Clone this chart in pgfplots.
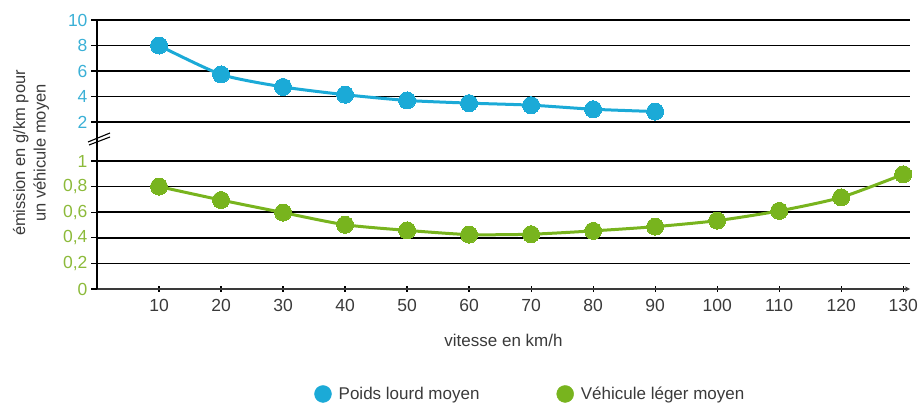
\documentclass[border=0pt]{standalone}
\usepackage{fontspec}
\setmainfont{Liberation Sans}
\usepackage{pgfplots}
\pgfplotsset{compat=1.18}
\definecolor{Cyan}{HTML}{1BAAD7}
\definecolor{Green}{HTML}{78B41E}
\definecolor{CyanTxt}{HTML}{3AB0D6}
\definecolor{GreenTxt}{HTML}{8CBA3A}
\definecolor{Txt}{HTML}{3A3A3A}

\pgfplotsset{
  panel/.style={
    scale only axis, width=813pt, xmin=0, xmax=131.1,
    clip=false,
    axis y line=left,
    axis line style={-},
    y axis line style={black, line width=1.6pt},
    ymajorgrids=true,
    grid style={black, line width=1.6pt},
    tick align=outside,
    major tick length=6pt,
    ytick style={black, line width=1.2pt},
    ticklabel style={font=\fontsize{17.5}{20}\selectfont},
    /pgf/number format/assume math mode=true,
  },
}

\begin{document}
\begin{tikzpicture}[x=1pt,y=1pt]
\useasboundingbox (0,0) rectangle (918,406);

% upper panel: poids lourd
\begin{axis}[panel,
  at={(97pt,284pt)}, anchor=south west, height=102pt,
  axis x line=none,
  ymin=2, ymax=10, ytick={2,4,6,8,10},
  yticklabel style={text=CyanTxt},
]
\addplot[Cyan, line width=3pt, smooth, tension=0.4, mark=*, mark size=8.5pt,
  mark options={fill=Cyan, draw=Cyan, line width=0pt}] coordinates {
  (10,8.0) (20,5.73) (30,4.75) (40,4.14) (50,3.69)
  (60,3.48) (70,3.32) (80,3.0) (90,2.82)
};
\end{axis}

% lower panel: vehicule leger
\begin{axis}[panel,
  at={(97pt,117pt)}, anchor=south west, height=128pt,
  axis x line=bottom,
  x axis line style={draw=Txt, line width=1.2pt},
  xtick={10,20,...,130},
  xtick style={black, line width=1.2pt},
  xticklabel style={text=Txt, yshift=-4pt},
  ymin=0, ymax=1,
  ytick={0.2,0.4,0.6,0.8,1},
  yticklabels={{0,2},{0,4},{0,6},{0,8},1},
  extra y ticks={0}, extra y tick labels={0},
  extra y tick style={grid=none},
  yticklabel style={text=GreenTxt},
  xlabel={vitesse en km/h},
  xlabel style={at={(axis description cs:0.5,-0.40)}, anchor=center,
    font=\fontsize{17}{20}\selectfont, text=Txt},
  legend columns=2,
  legend style={at={(0.533,-0.82)}, anchor=center, draw=none, fill=none,
    font=\fontsize{17}{20}\selectfont, text=Txt,
    /tikz/every even column/.append style={column sep=75pt}},
  legend image code/.code={\fill[#1] (0,0) circle (8.5pt); \path (13.5pt,0);},
]
\addlegendimage{Cyan}
\addlegendentry{Poids lourd moyen}
\addlegendimage{Green}
\addlegendentry{Véhicule léger moyen}
\addplot[forget plot, Green, line width=3pt, smooth, tension=0.4, mark=*, mark size=8.5pt,
  mark options={fill=Green, draw=Green, line width=0pt}] coordinates {
  (10,0.80) (20,0.695) (30,0.597) (40,0.502) (50,0.458) (60,0.425) (70,0.428)
  (80,0.454) (90,0.487) (100,0.534) (110,0.61) (120,0.716) (130,0.896)
};
\end{axis}

% continuous spine through the break, and the break mark
\draw[black, line width=1.6pt] (97,245) -- (97,284);
\draw[black, line width=1.1pt] (88,264) -- (110,273) (89,261) -- (110,269);

\node[rotate=90, align=center, text=Txt, font=\fontsize{16.5}{20.5}\selectfont]
  at (31,253) {émission en g/km pour\\un véhicule moyen};
\end{tikzpicture}
\end{document}
